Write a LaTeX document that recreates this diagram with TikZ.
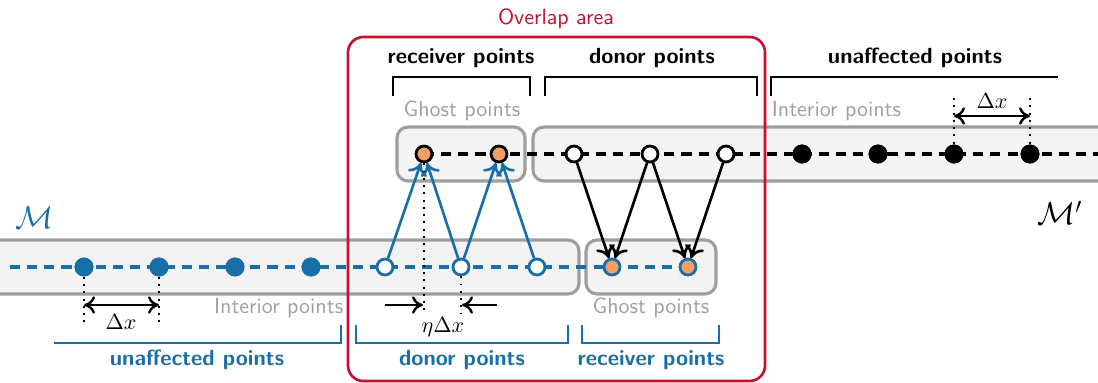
\documentclass[tikz,border=0pt]{standalone}
\usetikzlibrary{arrows.meta}
\definecolor{myblue}{RGB}{24,110,168}
\definecolor{myred}{RGB}{200,16,46}
\definecolor{myorange}{RGB}{242,158,100}
\definecolor{bandgrey}{RGB}{158,158,158}
\definecolor{bandfill}{RGB}{243,243,243}
\definecolor{textgrey}{RGB}{160,160,160}
\begin{document}
\begin{tikzpicture}[x=0.4545pt,y=-0.4545pt,font=\sffamily,
  band/.style={draw=bandgrey,fill=bandfill,line width=1.4pt,rounded corners=5pt},
  ptfill/.style={circle,inner sep=0pt,minimum size=8.6pt,fill=#1},
  ptopen/.style={circle,inner sep=0pt,minimum size=7.2pt,draw=#1,line width=1.2pt,fill=white},
  ptghost/.style={circle,inner sep=0pt,minimum size=7.2pt,draw=#1,line width=1.2pt,fill=myorange},
  dline/.style={line width=1.4pt,dash pattern=on 4.6pt off 3.2pt},
  conn/.style={line width=1.2pt,-{Computer Modern Rightarrow[length=5.5pt,width=9pt,line width=1.2pt]}},
  dimarr/.style={line width=1.1pt,{Computer Modern Rightarrow[length=5pt,width=8pt,line width=1.1pt]}-{Computer Modern Rightarrow[length=5pt,width=8pt,line width=1.1pt]}},
  onearr/.style={line width=1.1pt,-{Computer Modern Rightarrow[length=5pt,width=8pt,line width=1.1pt]}},
  dotline/.style={line width=0.9pt,dash pattern=on 0.9pt off 2.4pt},
  brk/.style={line width=0.9pt},
  lab/.style={font=\sffamily\bfseries},
  glab/.style={text=textgrey}]
\clip (0,0) rectangle (1098,382);
% bands
\draw[band] (533,127) rectangle (1130,181);
\draw[band] (397,127) rectangle (525,181);
\draw[band] (-30,240) rectangle (579,294);
\draw[band] (586,240) rectangle (716,294);
% overlap area
\draw[myred,line width=1.2pt,rounded corners=7pt] (348,37) rectangle (765,381);
\node[text=myred] (ovl) at (556,19) {Overlap area};
% upper points
\node[ptghost=black] (ug1) at (424,154) {};
\node[ptghost=black] (ug2) at (499,154) {};
\node[ptopen=black] (ud1) at (574,154) {};
\node[ptopen=black] (ud2) at (650,154) {};
\node[ptopen=black] (ud3) at (726,154) {};
\node[ptfill=black] (ui1) at (802,154) {};
\node[ptfill=black] (ui2) at (878,154) {};
\node[ptfill=black] (ui3) at (954,154) {};
\node[ptfill=black] (ui4) at (1030,154) {};
\coordinate (uend) at (1110,154);
% lower points
\coordinate (lstart) at (10,267);
\node[ptfill=myblue] (li1) at (84,267) {};
\node[ptfill=myblue] (li2) at (159,267) {};
\node[ptfill=myblue] (li3) at (235,267) {};
\node[ptfill=myblue] (li4) at (311,267) {};
\node[ptopen=myblue] (ld1) at (385,267) {};
\node[ptopen=myblue] (ld2) at (461,267) {};
\node[ptopen=myblue] (ld3) at (537,267) {};
\node[ptghost=myblue] (lg1) at (612,267) {};
\node[ptghost=myblue] (lg2) at (688,267) {};
% dashed lines (behind points)
\draw[dline] (ug1.center) -- (uend);
\draw[dline,myblue] (lstart) -- (lg2.center);
% redraw points on top of the dashed lines
\foreach \n/\s/\c/\x/\y in {ug1/ptghost/black/424/154, ug2/ptghost/black/499/154, ud1/ptopen/black/574/154, ud2/ptopen/black/650/154, ud3/ptopen/black/726/154, ui1/ptfill/black/802/154, ui2/ptfill/black/878/154, ui3/ptfill/black/954/154, ui4/ptfill/black/1030/154, li1/ptfill/myblue/84/267, li2/ptfill/myblue/159/267, li3/ptfill/myblue/235/267, li4/ptfill/myblue/311/267, ld1/ptopen/myblue/385/267, ld2/ptopen/myblue/461/267, ld3/ptopen/myblue/537/267, lg1/ptghost/myblue/612/267, lg2/ptghost/myblue/688/267}
  {\node[\s=\c] at (\x,\y) {};}
% connectors
\draw[conn,myblue] (ld1) -- (ug1);
\draw[conn,myblue] (ld2) -- (ug1);
\draw[conn,myblue] (ld2) -- (ug2);
\draw[conn,myblue] (ld3) -- (ug2);
\draw[conn] (ud1) -- (lg1);
\draw[conn] (ud2) -- (lg1);
\draw[conn] (ud2) -- (lg2);
\draw[conn] (ud3) -- (lg2);
% eta dx
\coordinate (e1) at (424,314);
\coordinate (e2) at (461,314);
\draw[dotline] (ug1.south) -- (e1);
\draw[dotline] (ld2.south) -- (e2);
\coordinate (ea1) at (385,305);
\coordinate (ea2) at (423,305);
\coordinate (eb1) at (497,305);
\coordinate (eb2) at (462,305);
\draw[onearr] (ea1) -- (ea2);
\draw[onearr] (eb1) -- (eb2);
\node (eta) at (443,327) {$\eta\Delta x$};
% lower dx
\coordinate (d1) at (84,323);
\coordinate (d2) at (159,323);
\draw[dotline] (li1.south) -- (d1);
\draw[dotline] (li2.south) -- (d2);
\coordinate (da1) at (84,305);
\coordinate (da2) at (159,305);
\draw[dimarr] (da1) -- (da2);
\node (dxl) at (121,322) {$\Delta x$};
% upper dx
\coordinate (d3) at (954,98);
\coordinate (d4) at (1030,98);
\draw[dotline] (d3) -- (ui3.north);
\draw[dotline] (d4) -- (ui4.north);
\coordinate (da3) at (954,116);
\coordinate (da4) at (1030,116);
\draw[dimarr] (da3) -- (da4);
\node (dxu) at (992,101) {$\Delta x$};
% top brackets
\draw[brk] (393,96) -- (393,77) -- (530,77) -- (530,96);
\node[lab] (t1) at (461,58) {receiver points};
\draw[brk] (545,96) -- (545,77) -- (757,77) -- (757,96);
\node[lab] (t2) at (652,58) {donor points};
\draw[brk] (771,96) -- (771,77) -- (1058,77);
\node[lab] (t3) at (915,58) {unaffected points};
% bottom brackets
\draw[brk,myblue] (54,343) -- (341,343) -- (341,325);
\node[lab,text=myblue] (b1) at (197,360) {unaffected points};
\draw[brk,myblue] (356,325) -- (356,343) -- (568,343) -- (568,325);
\node[lab,text=myblue] (b2) at (462,360) {donor points};
\draw[brk,myblue] (582,325) -- (582,343) -- (719,343) -- (719,325);
\node[lab,text=myblue] (b3) at (651,360) {receiver points};
% grey labels
\node[glab] (g1) at (462,111) {Ghost points};
\node[glab,anchor=west] (g2) at (764,111) {Interior points};
\node[glab,anchor=east] (g3) at (351,308) {Interior points};
\node[glab] (g4) at (651,308) {Ghost points};
% mesh labels
\node[text=myblue] (m1) at (35,218) {\Large$\mathcal{M}$};
\node (m2) at (1060,213) {\Large$\mathcal{M}'$};
\end{tikzpicture}
\end{document}
